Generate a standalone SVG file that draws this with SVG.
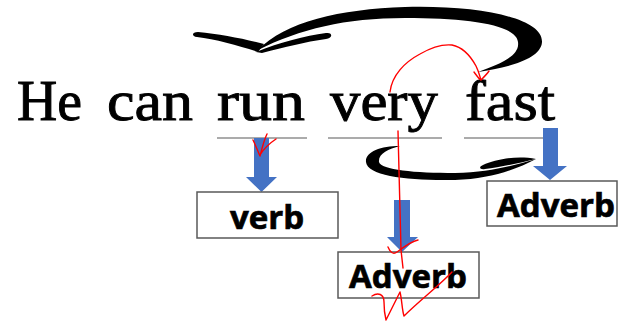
<svg xmlns="http://www.w3.org/2000/svg" width="620" height="322" viewBox="0 0 620 322">
<style>
.word{font-family:"Liberation Serif","Times New Roman",serif;font-size:56px;fill:#000;stroke:#000;stroke-width:0.9}
.lbl{font-family:"Open Sans","Noto Sans",sans-serif;font-weight:bold;font-size:33px;fill:#000;stroke:#000;stroke-width:0.7;text-anchor:middle}
.box{fill:#fff;stroke:#595959;stroke-width:1.5}
.slot{stroke:#595959;stroke-width:1.2}
.blue{fill:#4472C4}
.ink{fill:#000}
.red{fill:none;stroke:#ff0000;stroke-width:1.4;stroke-linecap:round;stroke-linejoin:round}
</style>
<rect width="620" height="322" fill="#fff"/>
<g id="sentence">
<text class="word" x="17" y="120" textLength="65" lengthAdjust="spacingAndGlyphs">He</text>
<text class="word" x="107" y="120" textLength="86" lengthAdjust="spacingAndGlyphs">can</text>
<text class="word" x="217" y="120" textLength="88" lengthAdjust="spacingAndGlyphs">run</text>
<text class="word" x="330" y="120" textLength="108" lengthAdjust="spacingAndGlyphs">very</text>
<text class="word" x="465" y="120" textLength="90" lengthAdjust="spacingAndGlyphs">fast</text>
</g>
<g id="slots">
<line class="slot" x1="217" y1="138" x2="307" y2="138"/>
<line class="slot" x1="328" y1="138" x2="442" y2="138"/>
<line class="slot" x1="464" y1="138" x2="548" y2="138"/>
</g>
<g id="connectors">
<path class="ink" d="M258,50 C285,22 340,9 405,7 C480,5 543,18 542,42 C541,60 505,68 478,72 C500,64 520,56 518,42 C516,25 470,18 405,18 C345,18 300,29 258,50 Z"/>
<path class="ink" d="M258,52 C240,46 215,39 197,37 C191,36 192,32 198,32 C220,34 245,39 264,44 Z"/>
<path class="ink" d="M256,52 C280,42 305,36 326,33 C333,32 333,38 326,39 C305,42 285,47 262,53 Z"/>
<path class="ink" d="M400,146 C380,146 365,152 366,162 C367,176 410,181 455,180 C490,179 515,170 536,159 C512,166 490,172 455,173 C415,173 381,170 379,162 C378,154 388,149 400,146 Z"/>
<path class="ink" d="M483,165 C495,160 515,155 536,159 C520,163 500,167 485,169 C480,170 478,167 483,165 Z"/>
<path class="blue" d="M254,138 H269 V177 H277 L261.5,192 L246,177 H254 Z"/>
<path class="blue" d="M394,200 H410 V237 H418 L402,252 L387,237 H394 Z"/>
<path class="blue" d="M543,128 H558 V166 H567 L550,180 L533,166 H543 Z"/>
</g>
<g id="node-verb">
<rect class="box" x="197" y="192" width="141" height="46"/>
<text class="lbl" x="267" y="229">verb</text>
</g>
<g id="node-adverb-very">
<rect class="box" x="338" y="252" width="141" height="46"/>
<text class="lbl" x="408" y="288">Adverb</text>
</g>
<g id="node-adverb-fast">
<rect class="box" x="487" y="181" width="130" height="45"/>
<text class="lbl" x="556" y="217">Adverb</text>
</g>
<g id="annotations">
<path class="red" d="M390,92 C392,75 405,62 420,54 C432,47 442,44 452,45 C462,47 470,55 476,66 C479,72 480,77 481,80 M474,72 C477,76 479,79 481,80 C484,77 487,74 489,71"/>
<path class="red" d="M398,131 L401,250 L403,268"/>
<path class="red" d="M388,247 C390,252 393,255 397,252 C405,246 412,241 418,240"/>
<path class="red" d="M372,296 C378,292 384,294 384,302 C384,310 385,316 386,320 C390,312 396,300 400,292 C402,300 402,310 404,316 C420,300 440,285 452,272"/>
<path class="red" d="M253,140 C256,146 258,152 260,156 C262,148 264,140 267,134 M260,155 C264,148 270,143 276,139"/>
</g>
</svg>
